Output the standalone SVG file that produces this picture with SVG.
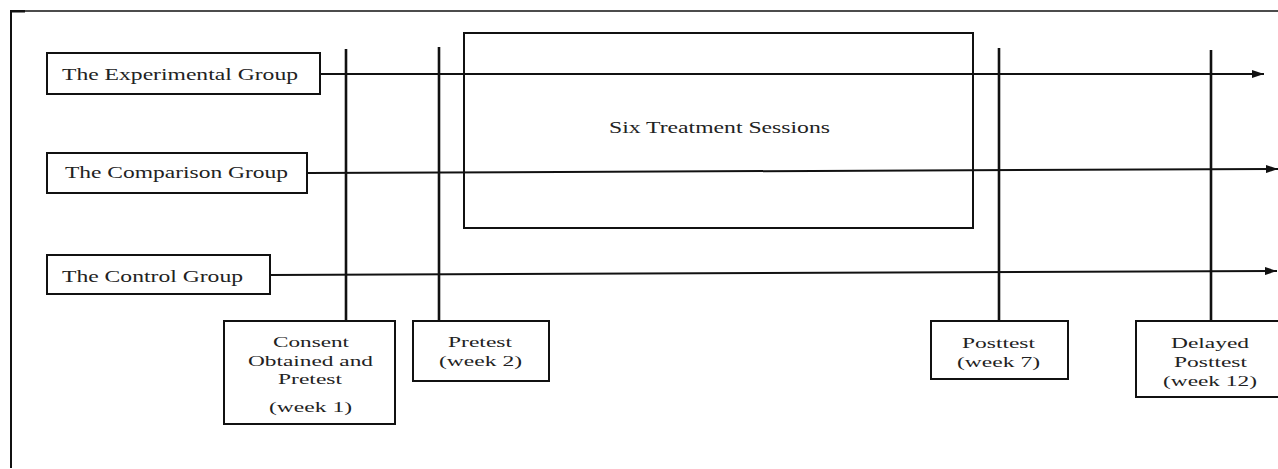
<svg xmlns="http://www.w3.org/2000/svg" width="1278" height="469" viewBox="0 0 1278 469">
<style>
.box{fill:#fff;stroke:#111;stroke-width:2}
.open{fill:none;stroke:#111;stroke-width:2}
.g{font-size:17.5px}
.s{font-size:15.5px}
.h{stroke:#111;stroke-width:2;fill:none}
.v{stroke:#111;stroke-width:2.6;fill:none}
</style>
<defs>
<marker id="arr" markerUnits="userSpaceOnUse" markerWidth="13" markerHeight="8" refX="12" refY="4" orient="auto">
<path d="M0,0 L12,4 L0,8 Z" fill="#111"/>
</marker>
</defs>
<g id="frame">
<line x1="10" y1="11" x2="1278" y2="11" stroke="#111" stroke-width="1.5"/>
<line x1="11" y1="10" x2="11" y2="468" stroke="#111" stroke-width="2"/>
<rect x="10" y="10" width="15" height="2.5" fill="#111"/>
</g>
<g id="connectors">
<line class="h" x1="321" y1="74" x2="1264" y2="74" marker-end="url(#arr)"/>
<line class="h" x1="308" y1="173" x2="1278" y2="169" marker-end="url(#arr)"/>
<line class="h" x1="271" y1="275" x2="1277" y2="271" marker-end="url(#arr)"/>
<line class="v" x1="346" y1="49" x2="346" y2="321"/>
<line class="v" x1="439" y1="47" x2="439" y2="321"/>
<line class="v" x1="999" y1="48" x2="999" y2="321"/>
<line class="v" x1="1211" y1="50" x2="1211" y2="321"/>
</g>
<g font-family="Liberation Serif, Times New Roman, Times, serif" fill="#222" text-anchor="middle">
<g id="treatment">
<rect class="open" x="464" y="33" width="509" height="195"/>
<text x="719.5" y="133" font-size="16" textLength="221" lengthAdjust="spacingAndGlyphs">Six Treatment Sessions</text>
</g>
<g id="experimental">
<rect class="box" x="47" y="53" width="273" height="41"/>
<text class="g" x="180" y="80" textLength="236" lengthAdjust="spacingAndGlyphs">The Experimental Group</text>
</g>
<g id="comparison">
<rect class="box" x="47" y="153" width="260" height="40"/>
<text class="g" x="176.5" y="178" textLength="223" lengthAdjust="spacingAndGlyphs">The Comparison Group</text>
</g>
<g id="control">
<rect class="box" x="47" y="255" width="223" height="39"/>
<text class="g" x="152.5" y="282" textLength="181" lengthAdjust="spacingAndGlyphs">The Control Group</text>
</g>
<g id="consent">
<rect class="box" x="224" y="321" width="171" height="103"/>
<text class="s" x="311" y="347" textLength="76" lengthAdjust="spacingAndGlyphs">Consent</text>
<text class="s" x="310.5" y="366" textLength="125" lengthAdjust="spacingAndGlyphs">Obtained and</text>
<text class="s" x="310" y="384" textLength="64" lengthAdjust="spacingAndGlyphs">Pretest</text>
<text class="s" x="310.5" y="412" textLength="83" lengthAdjust="spacingAndGlyphs">(week 1)</text>
</g>
<g id="pretest">
<rect class="box" x="413" y="321" width="136" height="60"/>
<text class="s" x="480" y="347" textLength="64" lengthAdjust="spacingAndGlyphs">Pretest</text>
<text class="s" x="480.5" y="366" textLength="83" lengthAdjust="spacingAndGlyphs">(week 2)</text>
</g>
<g id="posttest">
<rect class="box" x="931" y="321" width="137" height="58"/>
<text class="s" x="998.5" y="348" textLength="73" lengthAdjust="spacingAndGlyphs">Posttest</text>
<text class="s" x="998.5" y="367" textLength="83" lengthAdjust="spacingAndGlyphs">(week 7)</text>
</g>
<g id="delayed">
<rect class="box" x="1136" y="321" width="150" height="76"/>
<text class="s" x="1210" y="348" textLength="78" lengthAdjust="spacingAndGlyphs">Delayed</text>
<text class="s" x="1210.5" y="367" textLength="73" lengthAdjust="spacingAndGlyphs">Posttest</text>
<text class="s" x="1210" y="386" textLength="94" lengthAdjust="spacingAndGlyphs">(week 12)</text>
</g>
</g>
</svg>
